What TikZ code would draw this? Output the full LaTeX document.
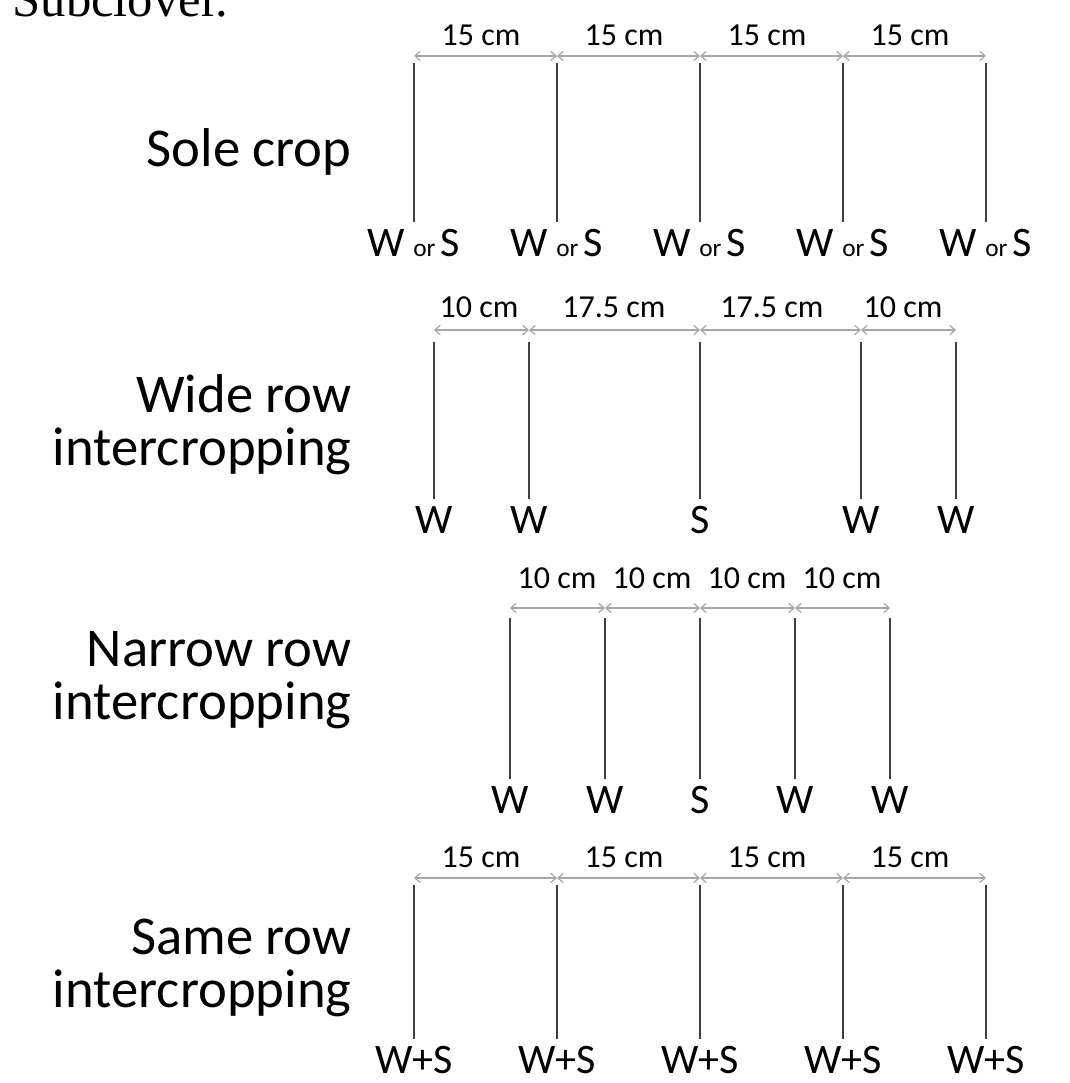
\documentclass[tikz,border=0pt]{standalone}
\usepackage{fontspec}
\setmainfont{Carlito}
\newfontfamily\bodyserif{Liberation Serif}
\usetikzlibrary{arrows.meta}

\tikzset{every picture/.style={line width=0.75pt}}
\tikzset{
  rowline/.style={draw=black!75, line width=1.5pt},
  gap/.style={draw=black!35, line width=0.9pt,
    {Straight Barb[length=4pt,width=7pt]}-{Straight Barb[length=4pt,width=7pt]}},
  gaplabel/.style={font=\fontsize{24}{28}\selectfont, inner sep=0pt},
  croplabel/.style={font=\fontsize{31.5}{36}\selectfont, inner xsep=0pt, inner ysep=5pt},
  rowname/.style={font=\fontsize{41}{40}\selectfont, align=right, anchor=east, inner sep=0pt}
}
\newcommand{\orword}{\hspace{6pt}{\fontsize{19}{22}\selectfont or}\hspace{4pt}}

\begin{document}
\begin{tikzpicture}[x=0.75pt,y=0.75pt,yscale=-1,xscale=1]
\useasboundingbox (0,0) rectangle (1070,1083);

%Text: cut-off line of the page above
\node[font=\bodyserif\fontsize{38}{44}\selectfont, anchor=base west, inner sep=0pt] (subclover) at (12,16) {Subclover.};

%Row: Sole crop
\node[rowname] (sole) at (352,152) {Sole crop};
\coordinate (sa1) at (414,56); \coordinate (sa2) at (557,56); \coordinate (sa3) at (700,56);
\coordinate (sa4) at (843,56); \coordinate (sa5) at (986,56);
\coordinate (st1) at (414,63); \coordinate (st2) at (557,63); \coordinate (st3) at (700,63);
\coordinate (st4) at (843,63); \coordinate (st5) at (986,63);
\node[croplabel] (sl1) at (414,243) {W\orword S};
\node[croplabel] (sl2) at (557,243) {W\orword S};
\node[croplabel] (sl3) at (700,243) {W\orword S};
\node[croplabel] (sl4) at (843,243) {W\orword S};
\node[croplabel] (sl5) at (986,243) {W\orword S};
\draw[rowline] (st1) -- (sl1.north); \draw[rowline] (st2) -- (sl2.north); \draw[rowline] (st3) -- (sl3.north);
\draw[rowline] (st4) -- (sl4.north); \draw[rowline] (st5) -- (sl5.north);
\draw[gap] (sa1) -- (sa2); \draw[gap] (sa2) -- (sa3); \draw[gap] (sa3) -- (sa4); \draw[gap] (sa4) -- (sa5);
\node[gaplabel] (sg1) at (481,35) {15 cm}; \node[gaplabel] (sg2) at (624,35) {15 cm};
\node[gaplabel] (sg3) at (767,35) {15 cm}; \node[gaplabel] (sg4) at (910,35) {15 cm};

%Row: Wide row intercropping
\node[rowname] (wide) at (352,425) {Wide row\\intercropping};
\coordinate (wa1) at (434,330); \coordinate (wa2) at (529,330); \coordinate (wa3) at (700,330);
\coordinate (wa4) at (861,330); \coordinate (wa5) at (956,330);
\coordinate (wt1) at (434,342); \coordinate (wt2) at (529,342); \coordinate (wt3) at (700,342);
\coordinate (wt4) at (861,342); \coordinate (wt5) at (956,342);
\node[croplabel] (wl1) at (434,520) {W}; \node[croplabel] (wl2) at (529,520) {W};
\node[croplabel] (wl3) at (700,520) {S};
\node[croplabel] (wl4) at (861,520) {W}; \node[croplabel] (wl5) at (956,520) {W};
\draw[rowline] (wt1) -- (wl1.north); \draw[rowline] (wt2) -- (wl2.north); \draw[rowline] (wt3) -- (wl3.north);
\draw[rowline] (wt4) -- (wl4.north); \draw[rowline] (wt5) -- (wl5.north);
\draw[gap] (wa1) -- (wa2); \draw[gap] (wa2) -- (wa3); \draw[gap] (wa3) -- (wa4); \draw[gap] (wa4) -- (wa5);
\node[gaplabel] (wg1) at (479,307) {10 cm}; \node[gaplabel] (wg2) at (614,307) {17.5 cm};
\node[gaplabel] (wg3) at (772,307) {17.5 cm}; \node[gaplabel] (wg4) at (903,307) {10 cm};

%Row: Narrow row intercropping
\node[rowname] (narrow) at (352,680) {Narrow row\\intercropping};
\coordinate (na1) at (510,608); \coordinate (na2) at (605,608); \coordinate (na3) at (700,608);
\coordinate (na4) at (795,608); \coordinate (na5) at (890,608);
\coordinate (nt1) at (510,618); \coordinate (nt2) at (605,618); \coordinate (nt3) at (700,618);
\coordinate (nt4) at (795,618); \coordinate (nt5) at (890,618);
\node[croplabel] (nl1) at (510,800) {W}; \node[croplabel] (nl2) at (605,800) {W};
\node[croplabel] (nl3) at (700,800) {S};
\node[croplabel] (nl4) at (795,800) {W}; \node[croplabel] (nl5) at (890,800) {W};
\draw[rowline] (nt1) -- (nl1.north); \draw[rowline] (nt2) -- (nl2.north); \draw[rowline] (nt3) -- (nl3.north);
\draw[rowline] (nt4) -- (nl4.north); \draw[rowline] (nt5) -- (nl5.north);
\draw[gap] (na1) -- (na2); \draw[gap] (na2) -- (na3); \draw[gap] (na3) -- (na4); \draw[gap] (na4) -- (na5);
\node[gaplabel] (ng1) at (557,578) {10 cm}; \node[gaplabel] (ng2) at (652,578) {10 cm};
\node[gaplabel] (ng3) at (747,578) {10 cm}; \node[gaplabel] (ng4) at (842,578) {10 cm};

%Row: Same row intercropping
\node[rowname] (same) at (352,968) {Same row\\intercropping};
\coordinate (ma1) at (414,878); \coordinate (ma2) at (557,878); \coordinate (ma3) at (700,878);
\coordinate (ma4) at (843,878); \coordinate (ma5) at (986,878);
\coordinate (mt1) at (414,885); \coordinate (mt2) at (557,885); \coordinate (mt3) at (700,885);
\coordinate (mt4) at (843,885); \coordinate (mt5) at (986,885);
\node[croplabel] (ml1) at (414,1060) {W+S}; \node[croplabel] (ml2) at (557,1060) {W+S};
\node[croplabel] (ml3) at (700,1060) {W+S}; \node[croplabel] (ml4) at (843,1060) {W+S};
\node[croplabel] (ml5) at (986,1060) {W+S};
\draw[rowline] (mt1) -- (ml1.north); \draw[rowline] (mt2) -- (ml2.north); \draw[rowline] (mt3) -- (ml3.north);
\draw[rowline] (mt4) -- (ml4.north); \draw[rowline] (mt5) -- (ml5.north);
\draw[gap] (ma1) -- (ma2); \draw[gap] (ma2) -- (ma3); \draw[gap] (ma3) -- (ma4); \draw[gap] (ma4) -- (ma5);
\node[gaplabel] (mg1) at (481,857) {15 cm}; \node[gaplabel] (mg2) at (624,857) {15 cm};
\node[gaplabel] (mg3) at (767,857) {15 cm}; \node[gaplabel] (mg4) at (910,857) {15 cm};

\end{tikzpicture}
\end{document}
